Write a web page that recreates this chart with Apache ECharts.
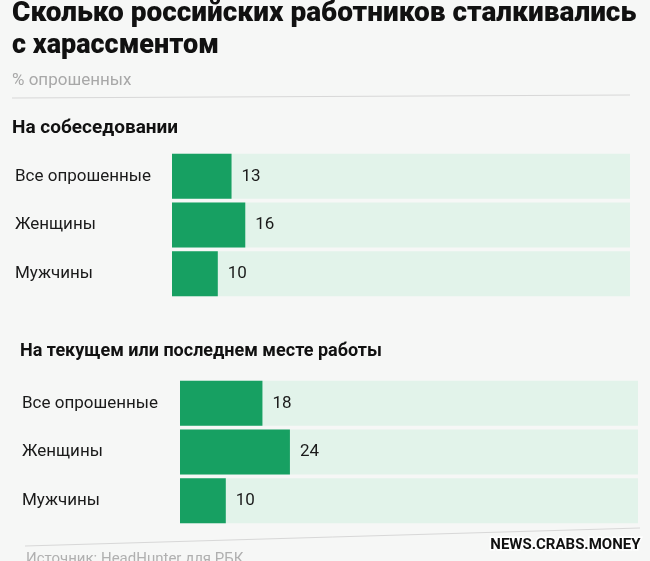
<!DOCTYPE html>
<html><head><meta charset="utf-8">
<script src="https://cdn.jsdelivr.net/npm/echarts@6/dist/echarts.min.js"></script>
<style>html,body{margin:0;padding:0;background:#f6f7f6}#c{width:650px;height:561px}</style>
</head><body><div id="c"></div>
<script>
var categories = ['Все опрошенные', 'Женщины', 'Мужчины'];
var interviewValues = [13, 16, 10];
var workplaceValues = [18, 24, 10];
var scaleMax = 100;
var titleLines = ['Сколько российских работников сталкивались', 'с харассментом'];
var subtitle = '% опрошенных';
var sectionTitles = ['На собеседовании', 'На текущем или последнем месте работы'];
var sourceText = 'Источник: HeadHunter для РБК';

var FONT = 'Roboto, "Noto Sans", sans-serif';
var GREEN = '#17a062';
var TRACK = '#e2f3ea';

function grids(i, left, right, top) {
  return {left: left, right: right, top: top, height: 146};
}
function xAx(i) {
  return {gridIndex: i, type: 'value', min: 0, max: scaleMax, show: false};
}
function yAx(i, margin) {
  return {gridIndex: i, type: 'category', data: categories, inverse: true,
    axisLine: {show: false}, axisTick: {show: false}, splitLine: {show: false},
    axisLabel: {margin: margin, align: 'left', fontFamily: FONT, fontSize: 17, color: '#1a1a1a'}};
}
function trackSeries(i) {
  return {type: 'bar', xAxisIndex: i, yAxisIndex: i, barWidth: 45, barGap: '-100%',
    data: categories.map(function(){return scaleMax;}), itemStyle: {color: TRACK},
    silent: true, animation: false, z: 1};
}
function valSeries(i, vals) {
  return {type: 'bar', xAxisIndex: i, yAxisIndex: i, barWidth: 45, barGap: '-100%',
    data: vals, itemStyle: {color: GREEN}, animation: false, z: 2,
    label: {show: true, position: 'right', distance: 10, fontFamily: FONT, fontSize: 17, color: '#1a1a1a'}};
}

var chart = echarts.init(document.getElementById('c'));
chart.setOption({
  backgroundColor: '#f6f7f6',
  grid: [grids(0, 172, 20, 152), grids(1, 180, 12, 379)],
  xAxis: [xAx(0), xAx(1)],
  yAxis: [yAx(0, 157), yAx(1, 158)],
  series: [trackSeries(0), valSeries(0, interviewValues), trackSeries(1), valSeries(1, workplaceValues)],
  graphic: [
    {type: 'text', left: 12, top: 0, style: {text: titleLines[0], fontFamily: FONT, fontWeight: 900, fontSize: 28, fill: '#111'}},
    {type: 'text', left: 12, top: 33, style: {text: titleLines[1], fontFamily: FONT, fontWeight: 900, fontSize: 27, fill: '#111'}},
    {type: 'text', left: 12, top: 72, style: {text: subtitle, fontFamily: FONT, fontSize: 17, fill: '#a8a8a8'}},
    {type: 'line', shape: {x1: 12, y1: 98, x2: 630, y2: 95}, style: {stroke: '#d8d8d8', lineWidth: 1}},
    {type: 'text', left: 12, top: 119, style: {text: sectionTitles[0], fontFamily: FONT, fontWeight: 'bold', fontSize: 19, fill: '#111'}},
    {type: 'text', left: 20, top: 342, style: {text: sectionTitles[1], fontFamily: FONT, fontWeight: 'bold', fontSize: 18, fill: '#111'}},
    {type: 'line', shape: {x1: 25, y1: 546, x2: 640, y2: 528}, style: {stroke: '#d8d8d8', lineWidth: 1}},
    {type: 'text', left: 26, top: 552, style: {text: sourceText, fontFamily: FONT, fontSize: 15, fill: '#b0b0b0'}},
    {type: 'text', right: 8, top: 536, z: 10, style: {text: 'NEWS.CRABS.MONEY', fontFamily: FONT, fontWeight: 'bold', fontSize: 15, fill: '#111', stroke: '#fff', lineWidth: 3}}
  ]
});
</script></body></html>
